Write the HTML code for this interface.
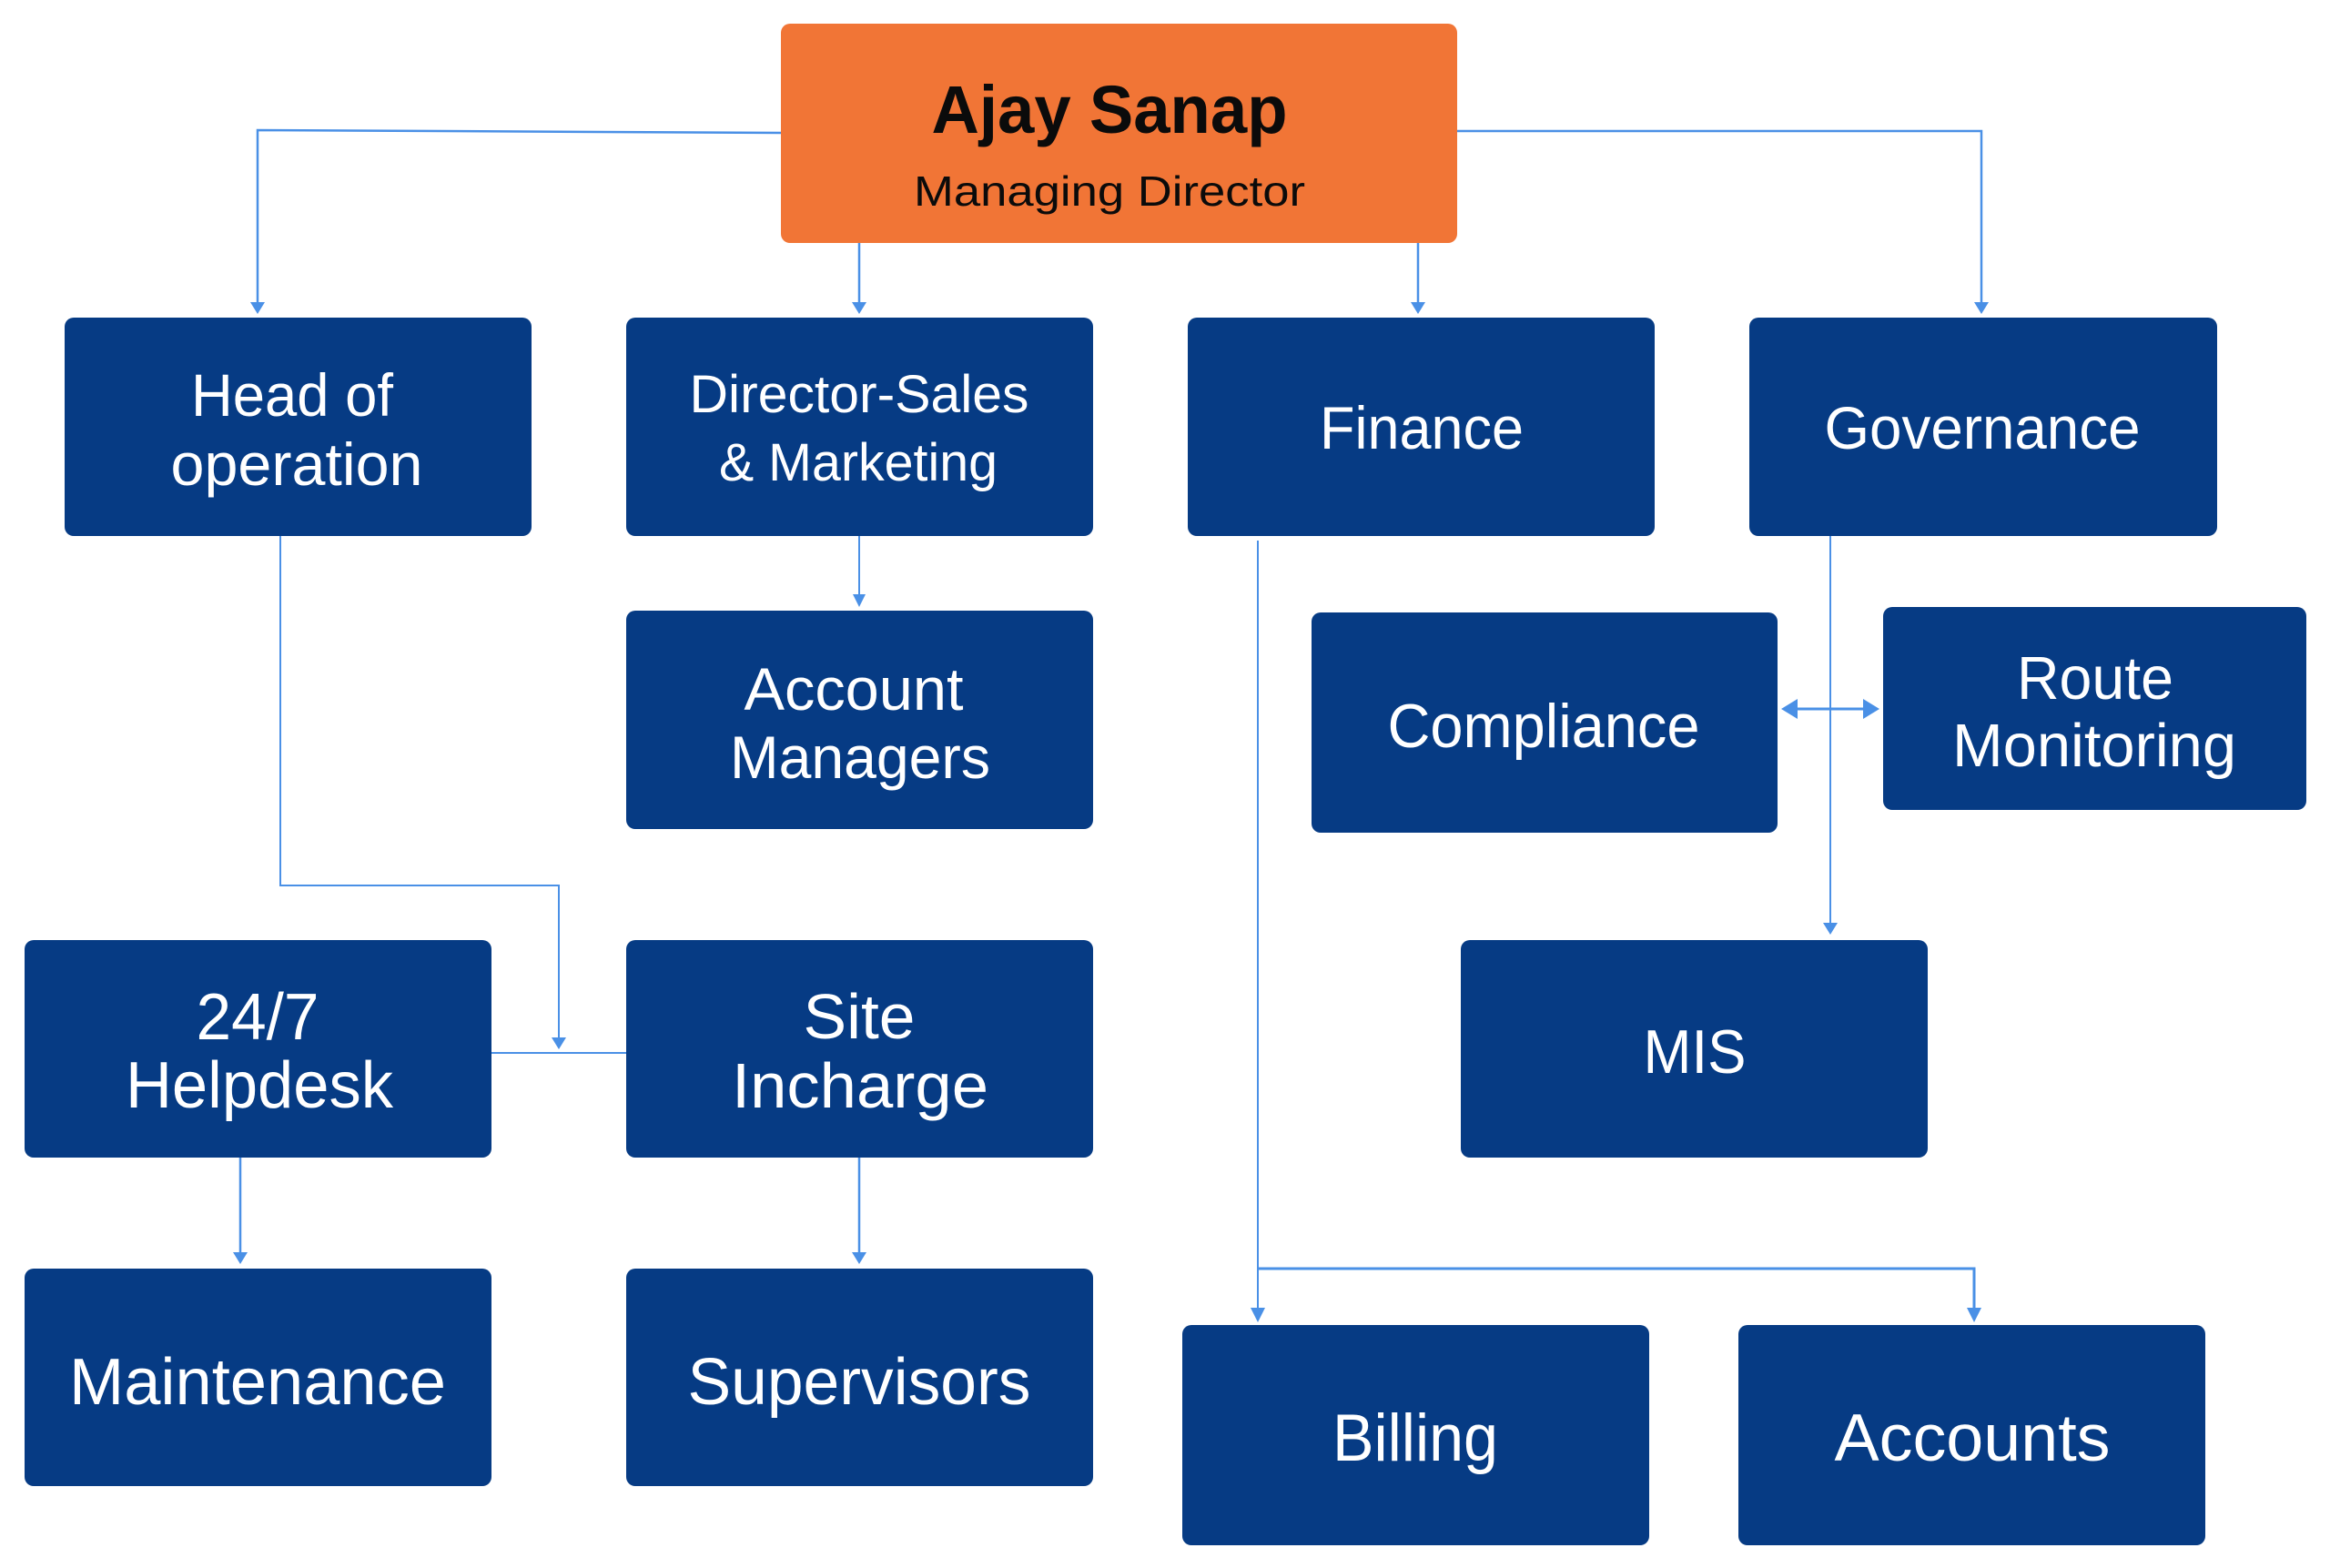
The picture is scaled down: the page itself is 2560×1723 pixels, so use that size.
<!DOCTYPE html>
<html>
<head>
<meta charset="utf-8">
<style>
  html, body { margin: 0; padding: 0; background: #ffffff; }
  body { width: 2560px; height: 1723px; overflow: hidden; }
  svg { display: block; }
  .t { font-family: "Liberation Sans", "DejaVu Sans", sans-serif; fill: #ffffff; text-anchor: middle; }
  .ln { stroke: #4A90E6; stroke-width: 2.5; fill: none; }
  .ah { fill: #4A90E6; }
  .bx { fill: #063B84; }
</style>
</head>
<body>
<svg width="2560" height="1723" viewBox="0 0 2560 1723" xmlns="http://www.w3.org/2000/svg">
  <rect x="0" y="0" width="2560" height="1723" fill="#ffffff"/>

  <!-- Connectors -->
  <polyline class="ln" points="860,146 283,143 283,334"/>
  <polygon class="ah" points="275,332 291,332 283,345"/>
  <line class="ln" x1="944" y1="267" x2="944" y2="334"/>
  <polygon class="ah" points="936,332 952,332 944,345"/>
  <line class="ln" x1="1558" y1="267" x2="1558" y2="334"/>
  <polygon class="ah" points="1550,332 1566,332 1558,345"/>
  <polyline class="ln" points="1600,144 2177,144 2177,334"/>
  <polygon class="ah" points="2169,332 2185,332 2177,345"/>

  <line class="ln" x1="944" y1="589" x2="944" y2="656" style="stroke-width:2"/>
  <polygon class="ah" points="937,653 951,653 944,667"/>

  <polyline class="ln" points="308,589 308,973 614,973 614,1142" style="stroke-width:2"/>
  <polygon class="ah" points="606,1140 622,1140 614,1153"/>
  <line class="ln" x1="540" y1="1157" x2="688" y2="1157" style="stroke-width:2"/>

  <line class="ln" x1="264" y1="1272" x2="264" y2="1378"/>
  <polygon class="ah" points="256,1376 272,1376 264,1389"/>
  <line class="ln" x1="944" y1="1272" x2="944" y2="1378"/>
  <polygon class="ah" points="936,1376 952,1376 944,1389"/>

  <line class="ln" x1="1382" y1="594" x2="1382" y2="1440" style="stroke-width:2"/>
  <polyline class="ln" points="1382,1394 2169,1394 2169,1440" style="stroke-width:3"/>
  <polygon class="ah" points="1374,1437 1390,1437 1382,1453"/>
  <polygon class="ah" points="2161,1437 2177,1437 2169,1453"/>

  <line class="ln" x1="2011" y1="589" x2="2011" y2="1016" style="stroke-width:2"/>
  <polygon class="ah" points="2003,1014 2019,1014 2011,1027"/>

  <line class="ln" x1="1970" y1="779" x2="2052" y2="779" style="stroke-width:3"/>
  <polygon class="ah" points="1957,779 1975,768 1975,790"/>
  <polygon class="ah" points="2065,779 2047,768 2047,790"/>

  <!-- Boxes -->
  <rect x="858" y="26" width="743" height="241" rx="10" fill="#F17536"/>
  <rect class="bx" x="71" y="349" width="513" height="240" rx="10"/>
  <rect class="bx" x="688" y="349" width="513" height="240" rx="10"/>
  <rect class="bx" x="1305" y="349" width="513" height="240" rx="10"/>
  <rect class="bx" x="1922" y="349" width="514" height="240" rx="10"/>
  <rect class="bx" x="688" y="671" width="513" height="240" rx="10"/>
  <rect class="bx" x="1441" y="673" width="512" height="242" rx="10"/>
  <rect class="bx" x="2069" y="667" width="465" height="223" rx="10"/>
  <rect class="bx" x="27" y="1033" width="513" height="239" rx="10"/>
  <rect class="bx" x="688" y="1033" width="513" height="239" rx="10"/>
  <rect class="bx" x="1605" y="1033" width="513" height="239" rx="10"/>
  <rect class="bx" x="27" y="1394" width="513" height="239" rx="10"/>
  <rect class="bx" x="688" y="1394" width="513" height="239" rx="10"/>
  <rect class="bx" x="1299" y="1456" width="513" height="242" rx="10"/>
  <rect class="bx" x="1910" y="1456" width="513" height="242" rx="10"/>

  <!-- Text -->
  <text class="t" x="1219" y="146" font-size="74" font-weight="bold" style="fill:#0b0b0b" textLength="391" lengthAdjust="spacingAndGlyphs">Ajay Sanap</text>
  <text class="t" x="1219" y="226" font-size="46" style="fill:#0b0b0b" textLength="430" lengthAdjust="spacingAndGlyphs">Managing Director</text>

  <text class="t" x="321" y="457" font-size="66" textLength="222" lengthAdjust="spacingAndGlyphs">Head of</text>
  <text class="t" x="326" y="533" font-size="66" textLength="277" lengthAdjust="spacingAndGlyphs">operation</text>

  <text class="t" x="944" y="453" font-size="58" textLength="373" lengthAdjust="spacingAndGlyphs">Director-Sales</text>
  <text class="t" x="943" y="528" font-size="58" textLength="306" lengthAdjust="spacingAndGlyphs">&amp; Marketing</text>

  <text class="t" x="1562" y="493" font-size="66" textLength="224" lengthAdjust="spacingAndGlyphs">Finance</text>
  <text class="t" x="2178" y="493" font-size="66" textLength="347" lengthAdjust="spacingAndGlyphs">Governance</text>

  <text class="t" x="938" y="780" font-size="66" textLength="241" lengthAdjust="spacingAndGlyphs">Account</text>
  <text class="t" x="945" y="855" font-size="66" textLength="286" lengthAdjust="spacingAndGlyphs">Managers</text>

  <text class="t" x="1696" y="821" font-size="68" textLength="343" lengthAdjust="spacingAndGlyphs">Compliance</text>

  <text class="t" x="2302" y="768" font-size="67" textLength="172" lengthAdjust="spacingAndGlyphs">Route</text>
  <text class="t" x="2301" y="842" font-size="67" textLength="312" lengthAdjust="spacingAndGlyphs">Monitoring</text>

  <text class="t" x="283" y="1142" font-size="72" textLength="135" lengthAdjust="spacingAndGlyphs">24/7</text>
  <text class="t" x="285" y="1217" font-size="72" textLength="294" lengthAdjust="spacingAndGlyphs">Helpdesk</text>

  <text class="t" x="944" y="1141" font-size="70" textLength="123" lengthAdjust="spacingAndGlyphs">Site</text>
  <text class="t" x="945" y="1217" font-size="70" textLength="282" lengthAdjust="spacingAndGlyphs">Incharge</text>

  <text class="t" x="1862" y="1179" font-size="68" textLength="113" lengthAdjust="spacingAndGlyphs">MIS</text>

  <text class="t" x="283" y="1543" font-size="72" textLength="414" lengthAdjust="spacingAndGlyphs">Maintenance</text>
  <text class="t" x="944" y="1543" font-size="72" textLength="377" lengthAdjust="spacingAndGlyphs">Supervisors</text>

  <text class="t" x="1555" y="1605" font-size="73" textLength="182" lengthAdjust="spacingAndGlyphs">Billing</text>
  <text class="t" x="2167" y="1605" font-size="73" textLength="303" lengthAdjust="spacingAndGlyphs">Accounts</text>
</svg>
</body>
</html>
